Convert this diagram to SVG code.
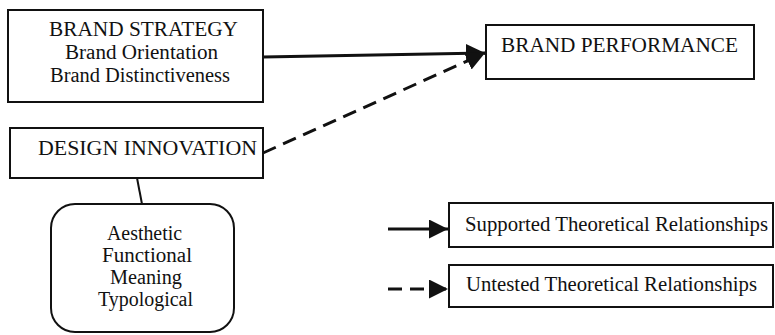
<svg xmlns="http://www.w3.org/2000/svg" width="775" height="335" viewBox="0 0 775 335">
  <defs>
    <marker id="head" markerUnits="userSpaceOnUse" markerWidth="20" markerHeight="20" refX="19" refY="9.5" orient="auto">
      <polygon points="0,0 19,9.5 0,19" fill="#111"/>
    </marker>
  </defs>
  <style>
    .box { fill: #fff; stroke: #111; stroke-width: 2; }
    .t { font-family: "Liberation Serif", "Times New Roman", serif; font-size: 20px; fill: #111; }
    .c { text-anchor: middle; }
    .solid { stroke: #111; stroke-width: 3; fill: none; }
    .dash { stroke: #111; stroke-width: 3; fill: none; stroke-dasharray: 14 8; }
    .thin { stroke: #111; stroke-width: 2; fill: none; }
  </style>
  <rect width="775" height="335" fill="#fff"/>

  <g id="connectors">
    <line class="solid" x1="263" y1="57" x2="485" y2="53" marker-end="url(#head)"/>
    <line class="dash" x1="263" y1="153" x2="485" y2="53" marker-end="url(#head)"/>
    <line class="thin" x1="137" y1="178" x2="142" y2="204"/>
  </g>

  <g id="brand-strategy">
    <rect class="box" x="8" y="10" width="255" height="92"/>
    <text class="t c" x="143.5" y="36" textLength="189" lengthAdjust="spacingAndGlyphs">BRAND STRATEGY</text>
    <text class="t c" x="141.5" y="59" textLength="153" lengthAdjust="spacingAndGlyphs">Brand Orientation</text>
    <text class="t c" x="140" y="82" textLength="180" lengthAdjust="spacingAndGlyphs">Brand Distinctiveness</text>
  </g>

  <g id="brand-performance">
    <rect class="box" x="486" y="25" width="268" height="54"/>
    <text class="t c" x="619.5" y="52" textLength="237" lengthAdjust="spacingAndGlyphs">BRAND PERFORMANCE</text>
  </g>

  <g id="design-innovation">
    <rect class="box" x="10" y="128" width="253" height="50"/>
    <text class="t c" x="147.5" y="155" textLength="219" lengthAdjust="spacingAndGlyphs">DESIGN INNOVATION</text>
  </g>

  <g id="design-dimensions">
    <rect class="box" x="51" y="204" width="183" height="128" rx="24" ry="24"/>
    <text class="t c" x="144.5" y="240" textLength="75" lengthAdjust="spacingAndGlyphs">Aesthetic</text>
    <text class="t c" x="147" y="262" textLength="90" lengthAdjust="spacingAndGlyphs">Functional</text>
    <text class="t c" x="146" y="284" textLength="72" lengthAdjust="spacingAndGlyphs">Meaning</text>
    <text class="t c" x="145.5" y="306" textLength="95" lengthAdjust="spacingAndGlyphs">Typological</text>
  </g>

  <g id="legend-supported">
    <line class="solid" x1="388" y1="229" x2="448" y2="229" marker-end="url(#head)"/>
    <rect class="box" x="449" y="203" width="324" height="44"/>
    <text class="t" x="465" y="231" textLength="303" lengthAdjust="spacingAndGlyphs">Supported Theoretical Relationships</text>
  </g>

  <g id="legend-untested">
    <line class="dash" x1="388" y1="289" x2="448" y2="289" marker-end="url(#head)"/>
    <rect class="box" x="449" y="265" width="324" height="42"/>
    <text class="t" x="466" y="291" textLength="291" lengthAdjust="spacingAndGlyphs">Untested Theoretical Relationships</text>
  </g>
</svg>
